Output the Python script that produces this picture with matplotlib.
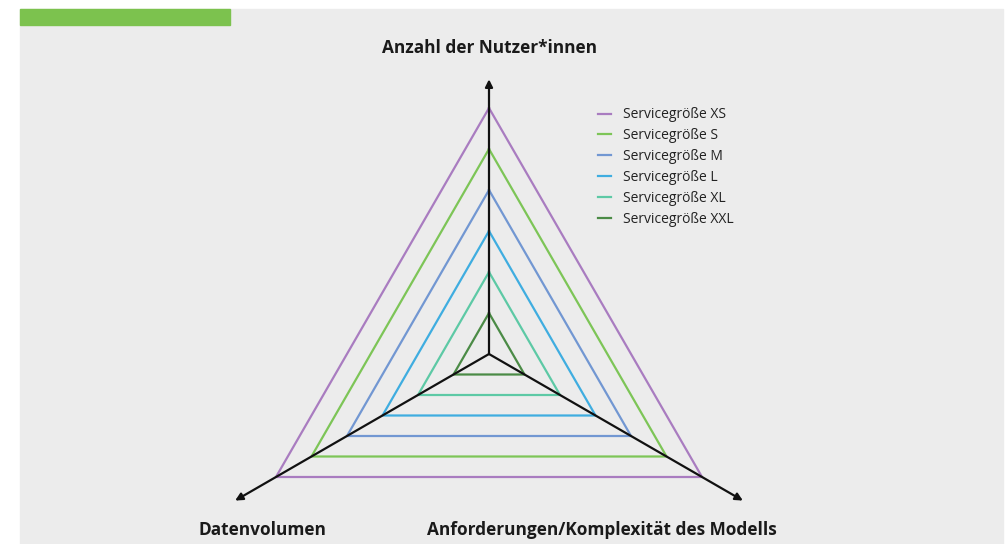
import numpy as np
import matplotlib
matplotlib.use("Agg")
import matplotlib.pyplot as plt
from matplotlib.patches import Rectangle

plt.rcParams["font.family"] = ["Open Sans", "DejaVu Sans"]

# --- data ---
AXES = ["Anzahl der Nutzer*innen", "Datenvolumen", "Anforderungen/Komplexität des Modells"]
SERIES = ["Servicegröße XS", "Servicegröße S", "Servicegröße M",
          "Servicegröße L", "Servicegröße XL", "Servicegröße XXL"]
VALUES = [[6, 6, 6], [5, 5, 5], [4, 4, 4], [3, 3, 3], [2, 2, 2], [1, 1, 1]]
COLORS = ["#a97cc0", "#7dc557", "#7297d2", "#3fade0", "#5dc9a5", "#4b8b46"]
AXIS_LEN = [6.7, 7.15, 7.15]
ANGLES = np.deg2rad([90, 210, 330])

W, H, DPI = 1005, 544, 100
CX, CY, UNIT = 489, 354, 41.0  # centre in px, px per unit

fig = plt.figure(figsize=(W / DPI, H / DPI), dpi=DPI, facecolor="white")
fig.patches.append(Rectangle((20 / W, 0), (1003 - 20) / W, (H - 9) / H,
                             transform=fig.transFigure, color="#ececec", zorder=-10))
fig.patches.append(Rectangle((20 / W, (H - 25) / H), (230 - 20) / W, 16 / H,
                             transform=fig.transFigure, color="#7cc24e", zorder=-9))

ax = fig.add_axes([0, 0, 1, 1])
ax.set_xlim(-CX / UNIT, (W - CX) / UNIT)
ax.set_ylim(-(H - CY) / UNIT, CY / UNIT)
ax.set_aspect("equal")
ax.axis("off")
ax.patch.set_alpha(0)

for name, vals, col in zip(SERIES, VALUES, COLORS):
    v = np.array(vals + vals[:1], dtype=float)
    a = np.concatenate([ANGLES, ANGLES[:1]])
    ax.plot(v * np.cos(a), v * np.sin(a), color=col, lw=1.6, label=name, zorder=2,
            solid_joinstyle="miter")

for ang, ln in zip(ANGLES, AXIS_LEN):
    ax.annotate("", xy=(ln * np.cos(ang), ln * np.sin(ang)), xytext=(0, 0),
                arrowprops=dict(arrowstyle="-|>", color="#111111", lw=1.6,
                                mutation_scale=11, shrinkA=0, shrinkB=0), zorder=3)

lab_kw = dict(fontsize=12.4, fontweight="bold", color="#1a1a1a", ha="center", va="center")
ax.text(0, (CY - 48) / UNIT, AXES[0], **lab_kw)
ax.text((262 - CX) / UNIT, -(530 - CY) / UNIT, AXES[1], **lab_kw)
ax.text((602 - CX) / UNIT, -(530 - CY) / UNIT, AXES[2], **lab_kw)

ax.legend(loc="upper left", bbox_to_anchor=(585 / W, 1 - 95 / H), frameon=False,
          fontsize=10, handlelength=1.0, handletextpad=0.85, labelspacing=0.42,
          labelcolor="#222222")

fig.savefig("out.png", dpi=DPI, facecolor="white")
